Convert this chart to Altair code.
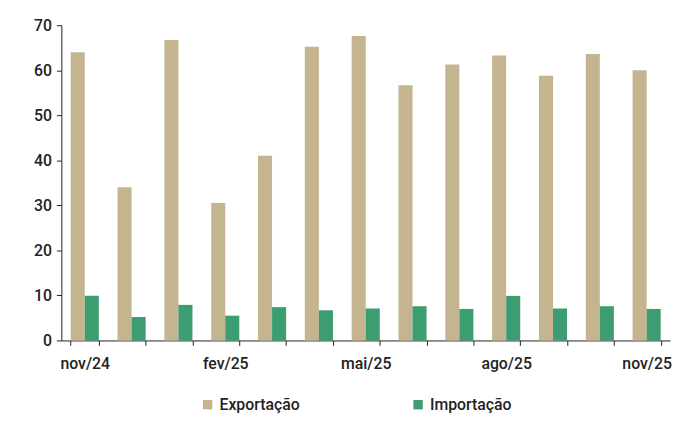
import altair as alt
import pandas as pd

months = ["nov/24", "dez/24", "jan/25", "fev/25", "mar/25", "abr/25", "mai/25",
          "jun/25", "jul/25", "ago/25", "set/25", "out/25", "nov/25"]
exportacao = [64.0, 34.0, 66.7, 30.5, 41.0, 65.2, 67.6, 56.7, 61.3, 63.3, 58.8, 63.6, 60.0]
importacao = [9.9, 5.2, 7.9, 5.5, 7.4, 6.7, 7.1, 7.6, 7.0, 9.9, 7.1, 7.6, 7.0]
series = ["Exportação", "Importação"]
colors = ["#C4B590", "#3C9D70"]
shown_labels = ["nov/24", "fev/25", "mai/25", "ago/25", "nov/25"]

rows = []
for m, e, i in zip(months, exportacao, importacao):
    rows.append({"mes": m, "serie": series[0], "valor": e})
    rows.append({"mes": m, "serie": series[1], "valor": i})
df = pd.DataFrame(rows)

FONT = "Roboto, sans-serif"
label_expr = "indexof(" + str(shown_labels) + ", datum.label) >= 0 ? datum.label : ''"

chart = alt.Chart(df).mark_bar().encode(
    x=alt.X("mes:N", sort=months, title=None,
            scale=alt.Scale(paddingInner=0.4, paddingOuter=0.2),
            axis=alt.Axis(labelAngle=0, labelExpr=label_expr, tickBand="extent",
                          domainColor="#222", tickColor="#222", tickSize=5,
                          labelFont=FONT, labelFontSize=16, labelFontWeight=500,
                          labelColor="#222", labelPadding=10, grid=False)),
    xOffset=alt.XOffset("serie:N", sort=series, scale=alt.Scale(paddingInner=0)),
    y=alt.Y("valor:Q", title=None,
            scale=alt.Scale(domain=[0, 70]),
            axis=alt.Axis(values=[0, 10, 20, 30, 40, 50, 60, 70], grid=False,
                          domainColor="#222", tickColor="#222", tickSize=5,
                          labelFont=FONT, labelFontSize=16, labelFontWeight=500,
                          labelColor="#222", labelPadding=5)),
    color=alt.Color("serie:N", sort=series,
                    scale=alt.Scale(domain=series, range=colors),
                    legend=alt.Legend(title=None, orient="none", legendX=140, legendY=376,
                                      direction="horizontal", columns=2, columnPadding=111,
                                      symbolType="square", symbolSize=90,
                                      labelFont=FONT, labelFontSize=16, labelFontWeight=500,
                                      labelColor="#222")),
).properties(
    width=616, height=319, autosize="none", background="white",
    padding={"left": 54, "top": 15, "right": 5, "bottom": 73},
).configure_view(stroke=None)

chart.save("out.html", embed_options={"renderer": "svg", "actions": False})
